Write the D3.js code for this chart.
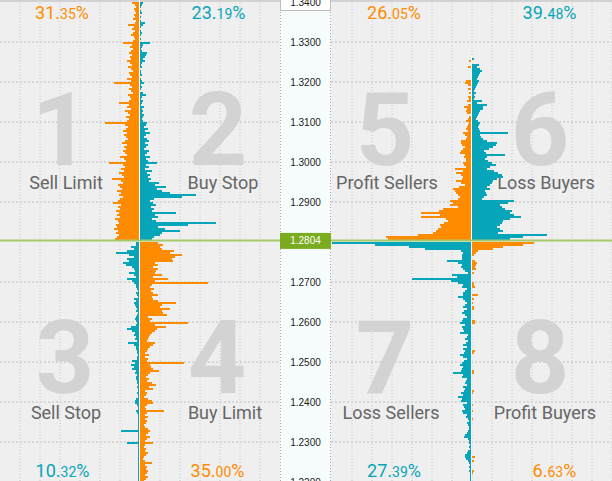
<!DOCTYPE html>
<html><head><meta charset="utf-8">
<script src="https://cdn.jsdelivr.net/npm/d3@7"></script>
<style>html,body{margin:0;padding:0;background:#efefef;overflow:hidden}</style>
</head><body><svg id="c" width="612" height="481"></svg>
<script>
// ---------- DATA ----------
const priceTicks = [1.34,1.33,1.32,1.31,1.30,1.29,1.28,1.27,1.26,1.25,1.24,1.23,1.22];
const currentPrice = 1.2804;
const binSize = 0.0005;
const topStart = 1.3400;     // upper edge of first bin above current price
const bottomStart = 1.2800;  // upper edge of first bin below current price

// left panel, above price (orange left / teal right)
const sellLimit = [
 7,4,3,5,4,3,5,4,6,3,
 4,11,5,7,4,6,8,5,4,6,
 16,7,9,6,8,10,7,9,8,12,
 9,7,11,8,6,10,9,7,12,8,
 25,9,7,10,8,6,11,9,8,10,
 20,10,12,8,14,11,9,13,10,12,
 34,14,11,13,16,12,15,13,11,14,
 17,12,15,13,16,14,12,19,15,13,
 30,16,14,18,15,20,17,15,27,18,
 16,21,19,17,22,18,20,16,19,21,
 26,18,21,19,23,20,22,19,24,21,
 20,23,22,25,21,23,20,22,24];
const buyStop = [
 3,2,1,0,1,2,0,1,0,1,
 5,3,1,0,1,2,1,0,1,0,
 10,3,2,1,2,7,6,5,3,5,
 2,1,2,0,1,1,2,0,1,2,
 4,1,2,1,0,3,6,2,1,3,
 2,1,4,2,3,2,4,3,2,3,
 7,6,4,8,5,10,6,4,7,9,
 5,8,6,4,9,7,5,10,6,8,
 17,6,9,5,12,7,10,8,11,9,
 19,15,26,17,22,30,56,42,14,10,
 13,16,11,14,12,36,15,18,12,16,
 76,48,18,25,40,22,20,14,12];
// left panel, below price (teal left / orange right)
const sellStop = [
 3,3,8,5,12,23,10,5,12,10,
 16,13,7,5,4,10,5,3,12,7,
 5,3,3,2,1,3,2,1,5,3,
 5,4,3,2,3,1,2,3,4,3,
 2,3,8,12,7,4,5,3,4,2,
 11,5,3,3,2,2,1,2,2,7,
 4,8,5,7,3,4,2,3,3,2,
 2,1,2,1,1,2,1,1,3,4,
 4,2,1,1,3,2,1,1,1,1,
 1,1,1,1,18,1,1,1,1,1,
 12,1,1,1,1,1,1,1,1,1,
 1,1,1,1,1,1,1,1,1,1];
const buyLimit = [
 18,23,20,22,34,30,42,35,32,33,
 15,18,13,18,16,15,22,13,28,15,
 68,12,10,14,11,13,18,12,13,18,
 36,22,20,30,22,23,27,8,12,10,
 48,15,26,17,15,12,10,9,8,7,
 15,13,10,8,7,5,9,5,8,7,
 44,10,11,13,19,10,8,6,9,7,
 12,16,9,13,5,7,6,4,8,12,
 13,7,5,6,24,7,5,8,5,7,
 6,4,5,8,10,8,6,10,7,5,
 13,5,4,6,5,8,6,4,3,5,
 12,5,7,6,8,7,5,8,6,4];
// right panel, above price (orange left / teal right)
const profitSellers = [
 0,0,0,0,0,0,0,0,0,0,
 0,0,0,0,0,0,0,0,0,0,
 0,0,0,0,0,0,0,0,0,2,
 0,0,3,0,0,0,0,0,0,5,
 6,3,0,3,0,2,0,3,2,4,
 0,3,7,4,5,4,0,2,3,5,
 2,3,4,5,3,8,6,4,5,10,
 10,9,6,8,10,11,6,7,5,5,
 8,7,5,16,8,15,10,8,9,15,
 10,6,12,18,16,15,13,11,13,21,
 18,21,13,28,32,50,31,50,25,23,
 27,31,30,33,35,38,53,85,83];
const lossBuyers = [
 0,0,0,0,0,0,0,0,0,0,
 0,0,0,0,0,0,0,0,0,0,
 0,0,0,0,0,0,0,0,2,0,
 0,7,5,8,10,8,7,6,5,7,
 6,5,4,3,2,4,2,3,2,10,
 5,15,11,11,8,7,6,5,4,6,
 8,7,6,7,8,36,8,9,11,15,
 25,24,21,17,12,14,33,15,13,16,
 20,24,18,15,22,26,30,31,25,21,
 20,18,15,18,13,14,15,12,10,42,
 36,28,30,33,40,38,42,49,38,31,
 30,28,25,28,31,26,75,51,38];
// right panel, below price (teal left / orange right)
const lossSellers = [
 139,96,62,46,10,8,9,9,9,24,
 13,9,10,8,6,3,19,14,59,20,
 13,8,9,4,6,8,8,13,8,6,
 4,6,8,4,7,9,6,4,8,9,
 11,6,9,8,7,11,3,4,6,3,
 5,8,4,8,6,7,11,8,4,7,
 9,11,8,9,10,18,8,9,4,5,
 6,4,8,6,7,10,8,13,9,10,
 4,8,7,6,9,8,4,5,3,2,
 4,3,2,2,3,4,6,7,3,2,
 2,1,2,1,3,4,6,6,5,3,
 2,1,2,1,2,1,1,1,1,1];
const profitBuyers = [
 62,51,31,21,6,4,2,0,0,3,
 5,4,3,4,0,2,0,0,0,0,
 2,2,3,0,0,0,6,0,2,0,
 1,0,2,2,0,0,0,0,0,3,
 3,0,0,0,0,0,0,0,0,0,
 0,0,0,0,3,2,0,0,0,0,
 0,0,0,0,2,2,0,0,0,0,
 0,0,0,0,2,1,0,0,0,0,
 0,1,0,0,1,0,0,0,1,0,
 0,0,0,0,0,0,0,0,0,0,
 0,0,0,0,0,0,0,3,0,2,
 0,0,0,0,2,1,0,0,0,0];

const quadNumbers  = ["1","2","3","4","5","6","7","8"];
const quadLabels   = ["Sell Limit","Buy Stop","Sell Stop","Buy Limit","Profit Sellers","Loss Buyers","Loss Sellers","Profit Buyers"];
const quadPercents = ["31.35","23.19","10.32","35.00","26.05","39.48","27.39","6.63"];
const quadSeries   = ["orange","teal","teal","orange","orange","teal","teal","orange"];

// ---------- STYLE / LAYOUT ----------
const W = 612, H = 481;
const ORANGE = "#ff8c00", TEAL = "#06a5ba";
const colorOf = {orange: ORANGE, teal: TEAL};
const svg = d3.select("#c");
const y = d3.scaleLinear().domain([1.34, 1.22]).range([2, 482]);
const xw = d3.scaleLinear().domain([0, 100]).range([0, 100]);

const axisL = 280, axisR = 331;
const centers = {left: 139, right: 471};   // white divider spans [c, c+1]

svg.append("rect").attr("width", W).attr("height", H).attr("fill", "#efefef");
svg.append("rect").attr("x", axisL).attr("y", 0).attr("width", axisR - axisL).attr("height", H).attr("fill", "#f7fdfd");

// grid
const grid = svg.append("g");
function vgrid(c, x0, x1) {
  for (let k = -20; k <= 20; k++) {
    const x = c + 0.5 + 20 * k;
    if (x > x0 && x < x1) grid.append("line").attr("x1", x).attr("x2", x).attr("y1", 0).attr("y2", H)
      .attr("stroke", "#c6c6c6").attr("stroke-width", 1).attr("stroke-dasharray", "1,2");
  }
}
vgrid(centers.left + 0.5, 0, axisL);
vgrid(centers.right + 0.5, axisR + 2, W + 1);
priceTicks.forEach(p => {
  if (p === 1.28 || p === 1.34) return;
  [[0, axisL], [axisR, W]].forEach(([a, b]) => {
    grid.append("line").attr("x1", a).attr("x2", b).attr("y1", y(p)).attr("y2", y(p))
      .attr("stroke", "#d6d6d6").attr("stroke-width", 2).attr("stroke-dasharray", "2,2");
  });
});
svg.append("rect").attr("x", 0).attr("y", 0).attr("width", W).attr("height", 2).attr("fill", "#d2d2d2");
[axisL + 0.5, axisR - 0.5].forEach(x => svg.append("line").attr("x1", x).attr("x2", x).attr("y1", 0).attr("y2", H)
  .attr("stroke", "#a8a8a8").attr("stroke-dasharray", "1,2"));

// big numbers, labels
const numX = [61,218,65,217,385,540,385,540];
const labX = [66,223,66,225,387,546,391,545];
const pctX = [62,218.5,62.5,217.5,394,549.5,394,554.5];
const isTop = i => (i % 4) < 2;
const txt = svg.append("g").attr("font-family", "Roboto, 'Noto Sans', sans-serif");
quadNumbers.forEach((n, i) => {
  txt.append("text").attr("x", numX[i]).attr("y", isTop(i) ? 165 : 393).attr("text-anchor", "middle")
    .attr("font-size", 102).attr("font-weight", 700).attr("fill", "#d3d3d3").text(n);
});

// bars
const bars = svg.append("g");
function drawBars(data, start, center, side, color) {
  bars.selectAll(null).data(data).enter().append("rect")
    .attr("x", d => side < 0 ? center - xw(d) : center + 1)
    .attr("y", (d, i) => y(start - i * binSize))
    .attr("width", d => xw(d))
    .attr("height", (d, i) => y(start - (i + 1) * binSize) - y(start - i * binSize))
    .attr("fill", color);
}
drawBars(sellLimit, topStart, centers.left, -1, ORANGE);
drawBars(buyStop, topStart, centers.left, 1, TEAL);
drawBars(sellStop, bottomStart, centers.left, -1, TEAL);
drawBars(buyLimit, bottomStart, centers.left, 1, ORANGE);
drawBars(profitSellers, topStart, centers.right, -1, ORANGE);
drawBars(lossBuyers, topStart, centers.right, 1, TEAL);
drawBars(lossSellers, bottomStart, centers.right, -1, TEAL);
drawBars(profitBuyers, bottomStart, centers.right, 1, ORANGE);

// white dividers
svg.append("rect").attr("x", centers.left).attr("y", 0).attr("width", 1).attr("height", H).attr("fill", "#ffffff");
svg.append("rect").attr("x", centers.right).attr("y", 56).attr("width", 1).attr("height", H - 56).attr("fill", "#ffffff");

// labels on top
quadLabels.forEach((l, i) => {
  txt.append("text").attr("x", labX[i]).attr("y", isTop(i) ? 189 : 419).attr("text-anchor", "middle")
    .attr("font-size", 18).attr("fill", "#666666").text(l);
});
quadPercents.forEach((p, i) => {
  const [a, b] = p.split(".");
  const t = txt.append("text").attr("x", pctX[i]).attr("y", isTop(i) ? 18.5 : 477).attr("text-anchor", "middle")
    .attr("font-size", 18).attr("fill", colorOf[quadSeries[i]]);
  t.append("tspan").text(a + ".");
  t.append("tspan").attr("font-size", 14).text(b);
  t.append("tspan").text("%");
});

// current price line
svg.append("line").attr("x1", 0).attr("x2", W).attr("y1", y(currentPrice)).attr("y2", y(currentPrice))
  .attr("stroke", "#a6c96a").attr("stroke-width", 2);

// axis labels
const ax = svg.append("g").attr("font-family", "'Liberation Sans', Arial, sans-serif").attr("font-size", 10);
ax.append("rect").attr("x", axisL + 0.5).attr("y", -6).attr("width", axisR - axisL - 1).attr("height", 16.5)
  .attr("fill", "#ffffff").attr("stroke", "#bdbdbd");
priceTicks.forEach(p => {
  if (p === 1.28) return;
  ax.append("text").attr("x", (axisL + axisR) / 2).attr("y", y(p)).attr("dy", "0.35em")
    .attr("text-anchor", "middle").attr("fill", "#1a1a1a").text(d3.format(".4f")(p));
});
ax.append("rect").attr("x", axisL).attr("y", y(currentPrice) - 7.5).attr("width", axisR - axisL).attr("height", 16)
  .attr("fill", "#7bab1f");
ax.append("text").attr("x", (axisL + axisR) / 2).attr("y", y(currentPrice) + 0.5).attr("dy", "0.35em")
  .attr("text-anchor", "middle").attr("fill", "#ffffff").text(d3.format(".4f")(currentPrice));
</script></body></html>
